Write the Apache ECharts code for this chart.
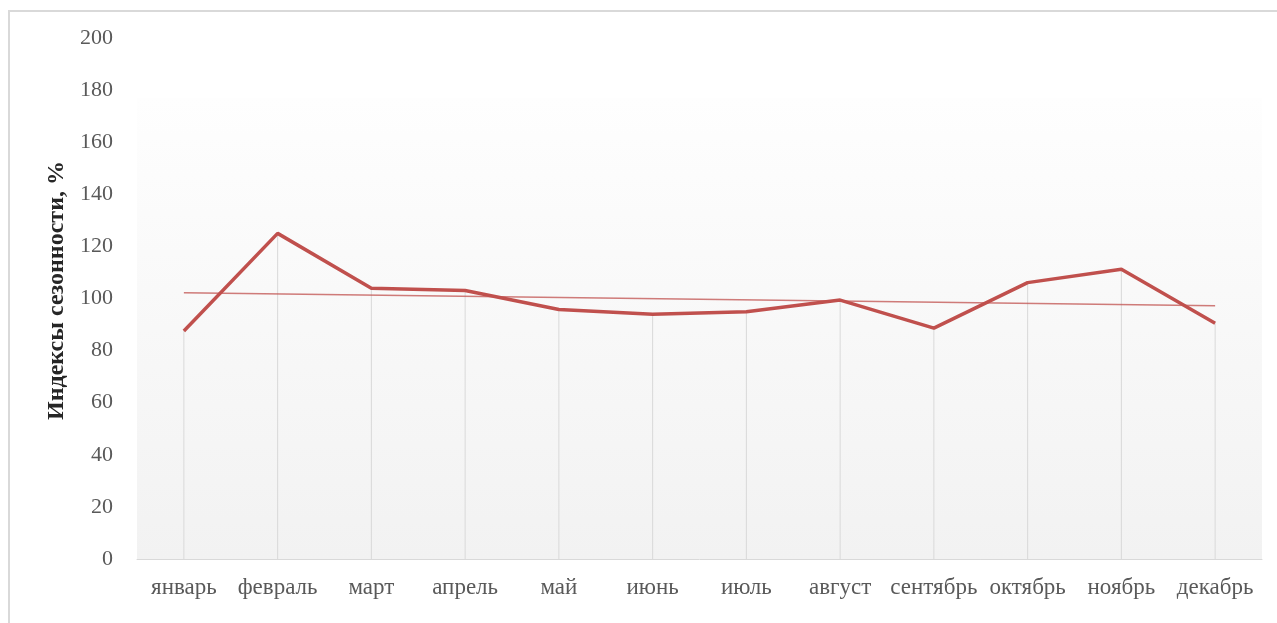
<!DOCTYPE html>
<html>
<head>
<meta charset="utf-8">
<script src="https://cdn.jsdelivr.net/npm/echarts@6/dist/echarts.min.js"></script>
<style>
  html, body { margin: 0; padding: 0; background: #fff; }
  #chart { width: 1277px; height: 623px; }
</style>
</head>
<body>
<div id="chart"></div>
<script>
const months = ['январь', 'февраль', 'март', 'апрель', 'май', 'июнь', 'июль', 'август', 'сентябрь', 'октябрь', 'ноябрь', 'декабрь'];
const seasonIndex = [87.5, 125.0, 103.9, 103.1, 95.8, 94.0, 94.9, 99.4, 88.6, 106.1, 111.2, 90.5];
const trend = [102.2, null, null, null, null, null, null, null, null, null, null, 97.2];
const yTicks = { min: 0, max: 200, interval: 20 };

const chart = echarts.init(document.getElementById('chart'));
const serif = '"Liberation Serif", "Times New Roman", serif';
const red = '#C0504D';

chart.setOption({
  animation: false,
  backgroundColor: '#fff',
  graphic: [
    {
      type: 'rect',
      z: -10,
      shape: { x: 9, y: 11, width: 1300, height: 640 },
      style: { fill: 'none', stroke: '#d9d9d9', lineWidth: 2 }
    },
    {
      type: 'rect',
      z: -9,
      shape: { x: 137, y: 98, width: 1125, height: 461 },
      style: {
        fill: new echarts.graphic.LinearGradient(0, 0, 0, 1, [
          { offset: 0, color: '#fefefe' },
          { offset: 1, color: '#f2f2f2' }
        ])
      }
    }
  ],
  grid: { left: 137, right: 15, top: 38, bottom: 64 },
  xAxis: {
    type: 'category',
    data: months,
    axisLine: { lineStyle: { color: '#d9d9d9', width: 1 } },
    axisTick: { show: false },
    axisLabel: { color: '#595959', fontFamily: serif, fontSize: 23, margin: 17, interval: 0 },
    splitLine: { show: false }
  },
  yAxis: {
    type: 'value',
    min: yTicks.min,
    max: yTicks.max,
    interval: yTicks.interval,
    name: 'Индексы сезонности, %',
    nameLocation: 'middle',
    nameGap: 66,
    nameTextStyle: { color: '#262626', fontFamily: serif, fontSize: 24, fontWeight: 'bold', padding: [0, 0, 0, 16] },
    axisLine: { show: false },
    axisTick: { show: false },
    axisLabel: { color: '#595959', fontFamily: serif, fontSize: 22, margin: 24 },
    splitLine: { show: false }
  },
  series: [
    {
      // drop lines from each point down to the axis
      name: 'drop',
      type: 'bar',
      data: seasonIndex,
      barWidth: 1,
      barGap: '-100%',
      itemStyle: { color: '#d9d9d9' },
      silent: true,
      z: 1
    },
    {
      name: 'Индексы сезонности',
      type: 'line',
      data: seasonIndex,
      symbol: 'none',
      lineStyle: { color: red, width: 3.5 },
      z: 3
    },
    {
      name: 'Тренд',
      type: 'line',
      data: trend,
      connectNulls: true,
      symbol: 'none',
      lineStyle: { color: 'rgba(192,80,77,0.75)', width: 1.5 },
      z: 4
    }
  ]
});
</script>
</body>
</html>
